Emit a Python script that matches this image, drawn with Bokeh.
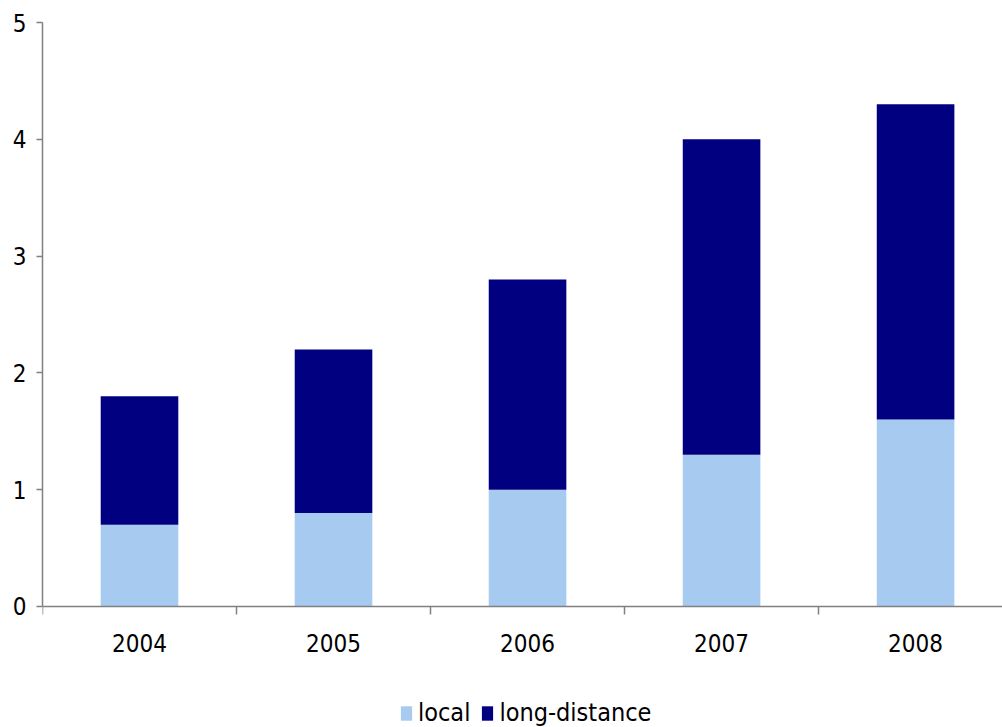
from bokeh.plotting import figure
from bokeh.models import Range1d, FixedTicker, Legend, LegendItem, ColumnDataSource
from bokeh.embed import file_html
from bokeh.resources import INLINE

years = ["2004", "2005", "2006", "2007", "2008"]
local = [0.7, 0.8, 1.0, 1.3, 1.6]
long_distance = [1.1, 1.4, 1.8, 2.7, 2.7]
y_ticks = [0, 1, 2, 3, 4, 5]

FONT = "DejaVu Sans Condensed"
LIGHT = "#A6CAF0"
NAVY = "#000080"
AXIS = "#808080"

idx = list(range(len(years)))
source = ColumnDataSource(dict(x=idx, local=local, long_distance=long_distance))

# the frame reaches the bottom of the page; the category axis sits at y=0
# and the legend lives in the space under it
p = figure(width=1002, height=727, output_backend="svg", toolbar_location=None,
           x_range=Range1d(-0.5, 4.448), y_range=Range1d(-1.036, 5),
           min_border_left=42, min_border_top=22, min_border_bottom=0,
           min_border_right=0)
p.outline_line_color = None
p.grid.visible = False
p.background_fill_color = "white"
p.border_fill_color = "white"

renderers = p.vbar_stack(["local", "long_distance"], x="x", width=0.4,
                         color=[LIGHT, NAVY], line_color=None, source=source)

# x axis: labels at category centres, tick marks between categories
xa = p.xaxis[0]
xa.fixed_location = 0
xa.ticker = FixedTicker(ticks=idx, minor_ticks=[i - 0.5 for i in range(len(years) + 1)])
xa.major_label_overrides = {i: y for i, y in enumerate(years)}
xa.major_tick_out = 0
xa.major_tick_in = 0
xa.minor_tick_out = 8
xa.minor_tick_in = 0
xa.minor_tick_line_color = AXIS
xa.axis_line_color = AXIS
xa.axis_line_width = 1.5
xa.minor_tick_line_width = 1.5
xa.major_label_text_font = FONT
xa.major_label_text_font_size = "24px"
xa.major_label_text_color = "black"
xa.major_label_standoff = 20

ya = p.yaxis[0]
ya.ticker = FixedTicker(ticks=y_ticks)
ya.bounds = (0, 5)
ya.minor_tick_line_color = None
ya.major_tick_out = 6
ya.major_tick_in = 0
ya.major_tick_line_color = AXIS
ya.major_tick_line_width = 1.5
ya.axis_line_color = AXIS
ya.axis_line_width = 1.5
ya.major_label_text_font = FONT
ya.major_label_text_font_size = "24px"
ya.major_label_text_color = "black"
ya.major_label_standoff = 10

legend = Legend(items=[LegendItem(label="local", renderers=[renderers[0]]),
                       LegendItem(label="long-distance", renderers=[renderers[1]])],
                orientation="horizontal", location=(357, 0),
                label_text_font=FONT, label_text_font_size="25px",
                label_text_color="black",
                glyph_width=14, glyph_height=18, spacing=10, label_standoff=5,
                padding=0, margin=0, border_line_color=None,
                background_fill_alpha=0)
p.add_layout(legend, "center")

open("out.html", "w").write(file_html(p, INLINE))
